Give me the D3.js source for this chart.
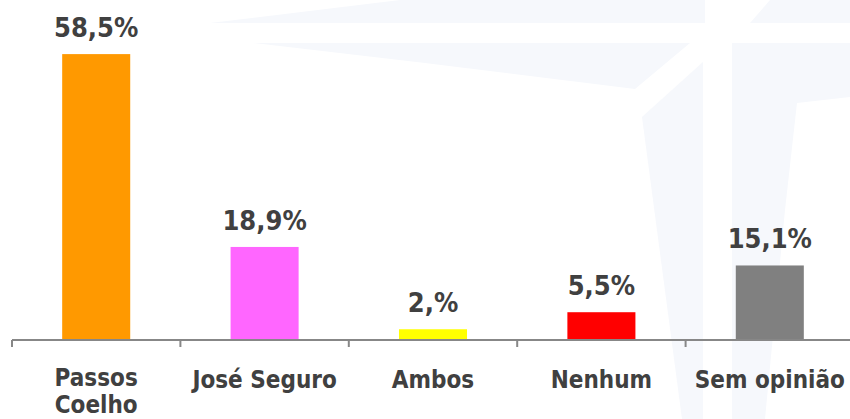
<!DOCTYPE html>
<html>
<head>
<meta charset="utf-8">
<script src="https://cdn.jsdelivr.net/npm/d3@7"></script>
<style>
	body { margin: 0; background: #ffffff; }
	svg { display: block; }
</style>
</head>
<body>
<svg id="svg1"></svg>
<script>
var categories = [["Passos", "Coelho"], ["José Seguro"], ["Ambos"], ["Nenhum"], ["Sem opinião"]];
var values = [58.5, 18.9, 2.0, 5.5, 15.1];
var valueLabels = ["58,5%", "18,9%", "2,%", "5,5%", "15,1%"];
var colors = ["#ff9900", "#ff66ff", "#ffff00", "#ff0000", "#808080"];

var width = 850,
	height = 419,
	axisY = 339;

var svg = d3.select("#svg1")
	.attr("width", width)
	.attr("height", height);

// faint watermark in the background
var mark = svg.append("g").attr("fill", "#f6f8fc");
var shapes = [
	[[210, 23], [705, 23], [705, 0], [400, 0]],
	[[750, 23], [850, 23], [850, 0], [770, 0]],
	[[253, 43], [690, 43], [635, 89], [425, 63]],
	[[642, 117], [703, 62], [703, 419], [682, 419]],
	[[732, 43], [850, 43], [850, 97], [797, 103], [785, 210], [765, 419], [732, 419]]
];
mark.selectAll("polygon")
	.data(shapes)
	.enter().append("polygon")
	.attr("points", function(d) { return d.map(function(p) { return p.join(","); }).join(" "); });

var keys = categories.map(function(c) { return c.join(" "); });

var x = d3.scaleBand()
	.domain(keys)
	.range([12, 854])
	.paddingInner(0.596)
	.paddingOuter(0.298);

var y = d3.scaleLinear()
	.domain([0, 60])
	.range([axisY, axisY - 60 * 4.87]);

var half = (x.step() - x.bandwidth()) / 2;

svg.selectAll(".bar")
	.data(values)
	.enter().append("rect")
	.attr("class", "bar")
	.attr("x", function(d, i) { return x(keys[i]); })
	.attr("width", x.bandwidth())
	.attr("y", function(d) { return y(d); })
	.attr("height", function(d) { return axisY - y(d); })
	.style("fill", function(d, i) { return colors[i]; });

// axis line and ticks between the categories
var axis = svg.append("g").attr("stroke", "#878787").attr("stroke-width", 2);
axis.append("line")
	.attr("x1", 12).attr("x2", width)
	.attr("y1", axisY + 1).attr("y2", axisY + 1);
axis.selectAll(".tick")
	.data(keys)
	.enter().append("line")
	.attr("class", "tick")
	.attr("x1", function(d) { return x(d) - half; })
	.attr("x2", function(d) { return x(d) - half; })
	.attr("y1", axisY + 1)
	.attr("y2", axisY + 8);

svg.selectAll(".val")
	.data(values)
	.enter().append("text")
	.attr("class", "val")
	.attr("x", function(d, i) { return x(keys[i]) + x.bandwidth() / 2; })
	.attr("y", function(d) { return y(d) - 17; })
	.attr("text-anchor", "middle")
	.style("font-family", "'DejaVu Sans Condensed', 'DejaVu Sans', sans-serif")
	.style("font-weight", "bold")
	.style("font-size", "27px")
	.style("fill", "#404040")
	.text(function(d, i) { return valueLabels[i]; });

var cat = svg.selectAll(".cat")
	.data(categories)
	.enter().append("text")
	.attr("class", "cat")
	.attr("text-anchor", "middle")
	.style("font-family", "'DejaVu Sans Condensed', 'DejaVu Sans', sans-serif")
	.style("font-weight", "bold")
	.style("font-size", "24px")
	.style("fill", "#404040");

cat.selectAll("tspan")
	.data(function(d, i) { return d.map(function(t) { return {t: t, i: i, n: d.length}; }); })
	.enter().append("tspan")
	.attr("x", function(d) { return x(keys[d.i]) + x.bandwidth() / 2; })
	.attr("y", function(d, j) { return (d.n > 1 ? 386 : 388) + j * 27; })
	.text(function(d) { return d.t; });
</script>
</body>
</html>
